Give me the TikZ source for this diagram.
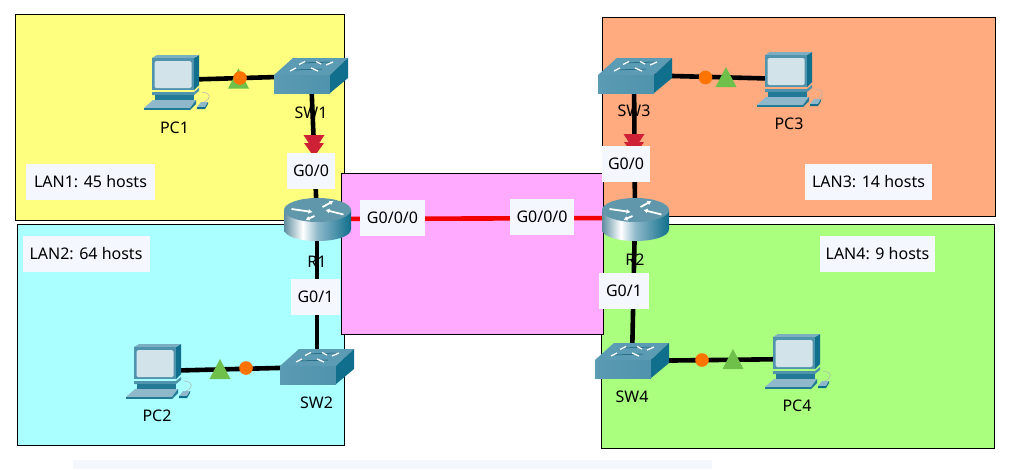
\documentclass[tikz,border=0pt]{standalone}
\usepackage{fontspec}
\setmainfont{Noto Sans}
\usetikzlibrary{arrows.meta}
\definecolor{labbg}{HTML}{F5F7FF}
\definecolor{yel}{HTML}{FFFF7F}
\definecolor{cya}{HTML}{AAFFFF}
\definecolor{pnk}{HTML}{FFAAFF}
\definecolor{org}{HTML}{FFAA7F}
\definecolor{grn}{HTML}{AAFF7F}
\definecolor{tealA}{HTML}{5B9BB3}
\definecolor{tealB}{HTML}{0F6F8C}
\definecolor{tealC}{HTML}{8FB9CB}
\definecolor{tealD}{HTML}{4F93AC}
\definecolor{scr}{HTML}{D3E3EA}
\definecolor{mkgreen}{HTML}{6FBF4B}
\definecolor{mkorange}{HTML}{FF7300}
\definecolor{mkred}{HTML}{CF2136}
\pgfdeclarehorizontalshading{rtbody}{100bp}{
  color(0bp)=(tealD!70!gray); color(25bp)=(tealD!70!gray); color(39bp)=(white);
  color(50bp)=(tealC); color(75bp)=(tealB); color(100bp)=(tealB)}
\pgfdeclarehorizontalshading{swfront}{100bp}{
  color(0bp)=(tealA); color(25bp)=(tealA); color(75bp)=(tealD); color(100bp)=(tealD)}
\tikzset{
  zone/.style={draw=black,line width=1pt},
  link/.style={line width=4.6pt,black},
  redlink/.style={line width=4.6pt,red!95!black},
  tag/.style={fill=labbg,inner sep=0pt,minimum height=36pt,font=\fontsize{16}{19}\selectfont},
  devname/.style={font=\fontsize{16}{19}\selectfont,inner sep=0pt},
  dev/.style={inner sep=0pt,minimum size=2pt},
  pc/.pic={
    \fill[tealB] (42,3) -- (47,0) -- (47,30) -- (42,35) -- cycle;
    \fill[tealC!70!tealD] (0,3) -- (5,0) -- (47,0) -- (42,3) -- cycle;
    \fill[tealD] (0,3) rectangle (42,35);
    \fill[scr,rounded corners=1.5pt] (2.5,6) rectangle (39.5,33);
    \fill[tealD] (0,37) -- (42,37) -- (47,33) -- (47,36) -- (42,40) -- (0,40) -- cycle;
    \fill[tealB!70!tealD] (3,40) rectangle (42,45);
    \fill[tealC] (-8,53) -- (1,45) -- (44,45) -- (38,53) -- cycle;
    \fill[tealB!70!tealD] (-8,53) rectangle (38,55);
    \fill[tealB!70!tealD] (38,55) -- (38,53) -- (44,45) -- (44,49) -- cycle;
    \fill[tealC] (45,52) -- (49,47) -- (56,47) -- (53,52) -- cycle;
    \fill[tealB] (45,52) -- (53,52) -- (56,47) -- (56,49) -- (53,54) -- (45,54) -- cycle;
    \draw[gray!60,line width=.5pt] (52,47) .. controls (59,44) and (60,38) .. (50,37);
  },
  sw/.pic={
    \shade[shading=swfront] (0,17) rectangle (56,35);
    \fill[tealA] (0,17) -- (19,0) -- (74,0) -- (56,17) -- cycle;
    \fill[tealB] (56,17) -- (74,0) -- (74,20) -- (56,35) -- cycle;
    \draw[tealB!80!black,line width=.5pt] (28,5) -- (56,4) (20,12) -- (48,11);
    \draw[white,line width=1.3pt] (25,6.5) -- (31,3.5) (47,6) -- (42,3.5) (59,4) -- (52,7)
      (16,13) -- (22,10) (37,10) -- (44,13);
  },
  rt/.pic={
    \shade[shading=rtbody] (-33.5,-9) -- (-33.5,10)
      .. controls (-33.5,26) and (33.5,26) .. (33.5,10) -- (33.5,-9) -- cycle;
    \fill[tealA!85!gray] (0,-9) ellipse[x radius=33.5,y radius=12];
    \draw[white,line width=1.8pt,-{Latex[length=4pt,width=5pt]}] (-26,-10) -- (-5,-7);
    \draw[white,line width=1.8pt,-{Latex[length=4pt,width=5pt]}] (26,-4.5) -- (8,-9);
    \draw[white,line width=1.8pt,-{Latex[length=4pt,width=5pt]}] (5,-12) -- (16,-18);
    \draw[white,line width=1.8pt,-{Latex[length=4pt,width=5pt]}] (-3,-3) -- (-12,1);
  },
  tri/.pic={\fill[mkgreen] (-10.5,10) -- (0,-10) -- (10.5,10) -- cycle;},
  dot/.pic={\fill[mkorange] (0,0) circle (6.8);},
  redmark/.pic={
    \fill[mkred] (-10.5,-10) -- (10.5,-10) -- (4,0) -- (-4,0) -- cycle;
    \fill[mkred] (-10,-2) -- (10,-2) -- (0,12) -- cycle;
  },
}
\begin{document}
\begin{tikzpicture}[x=1pt,y=-1pt]
\useasboundingbox (0,0) rectangle (1026,469);
\fill[white] (0,0) rectangle (1026,469);
\fill[labbg] (73,460) rectangle (712,469);
% zones
\draw[zone,fill=yel] (15,14) rectangle (344,220);
\draw[zone,fill=cya] (17,224) rectangle (344,445);
\draw[zone,fill=org] (602,17) rectangle (995,216);
\draw[zone,fill=grn] (601,224) rectangle (994,448);
\draw[zone,fill=pnk] (341,173) rectangle (603,334);
% device anchors
\node[dev] (pc1) at (175,80) {};
\node[dev] (pc2) at (157,371) {};
\node[dev] (pc3) at (788,79) {};
\node[dev] (pc4) at (796,359) {};
\node[dev] (sw1) at (311,76) {};
\node[dev] (sw2) at (317,367) {};
\node[dev] (sw3) at (634,75) {};
\node[dev] (sw4) at (632,361) {};
\node[dev] (r1) at (317,219) {};
\node[dev] (r2) at (635,218) {};
% connectors
\draw[link] (pc1.center) -- (sw1.center);
\draw[link] (pc2.center) -- (sw2.center);
\draw[link] (pc3.center) -- (sw3.center);
\draw[link] (pc4.center) -- (sw4.center);
\draw[link] (sw1.center) -- (r1.center);
\draw[link] (sw2.center) -- (r1.center);
\draw[link] (sw3.center) -- (r2.center);
\draw[link] (sw4.center) -- (r2.center);
\draw[redlink] (r1.center) -- (r2.center);
% link-state markers
\pic at (238.5,78.5) {tri};
\pic at (240,78) {dot};
\pic at (220,369) {tri};
\pic at (246,368) {dot};
\pic at (726,77) {tri};
\pic at (705.5,77.5) {dot};
\pic at (733,359) {tri};
\pic at (702,360) {dot};
\pic at (314,145) {redmark};
\pic at (634,144) {redmark};
% port labels
\node[tag,minimum width=48pt] (p1) at (311,171) {G0/0};
\node[tag,minimum width=49pt] (p2) at (315.5,297) {G0/1};
\node[tag,minimum width=65pt] (p3) at (392.5,218) {G0/0/0};
\node[tag,minimum width=64pt] (p4) at (542,217) {G0/0/0};
\node[tag,minimum width=48pt] (p5) at (626,164) {G0/0};
\node[tag,minimum width=50pt] (p6) at (624,291) {G0/1};
% LAN labels
\node[tag,minimum width=129pt] (l1) at (90.5,182) {LAN1: 45 hosts};
\node[tag,minimum width=127pt] (l2) at (86,253.5) {LAN2: 64 hosts};
\node[tag,minimum width=127pt] (l3) at (868.5,182) {LAN3: 14 hosts};
\node[tag,minimum width=115pt] (l4) at (877.5,253.5) {LAN4: 9 hosts};
% icons
\pic at (152,55) {pc};
\pic at (134,344) {pc};
\pic at (765,52) {pc};
\pic at (773,334) {pc};
\pic at (274,58) {sw};
\pic at (280,349) {sw};
\pic at (598,58) {sw};
\pic at (595,343) {sw};
\pic at (317.5,219) {rt};
\pic at (635.5,219) {rt};
% device names
\node[devname] (n1) at (174.5,127.5) {PC1};
\node[devname] (n2) at (157,415.5) {PC2};
\node[devname] (n3) at (789,124) {PC3};
\node[devname] (n4) at (797,405.5) {PC4};
\node[devname] (n5) at (311,112.5) {SW1};
\node[devname] (n6) at (316.5,402.5) {SW2};
\node[devname] (n7) at (634,111) {SW3};
\node[devname] (n8) at (632,396.5) {SW4};
\node[devname] (n9) at (317,261.5) {R1};
\node[devname] (n10) at (635,259.5) {R2};
\end{tikzpicture}
\end{document}
